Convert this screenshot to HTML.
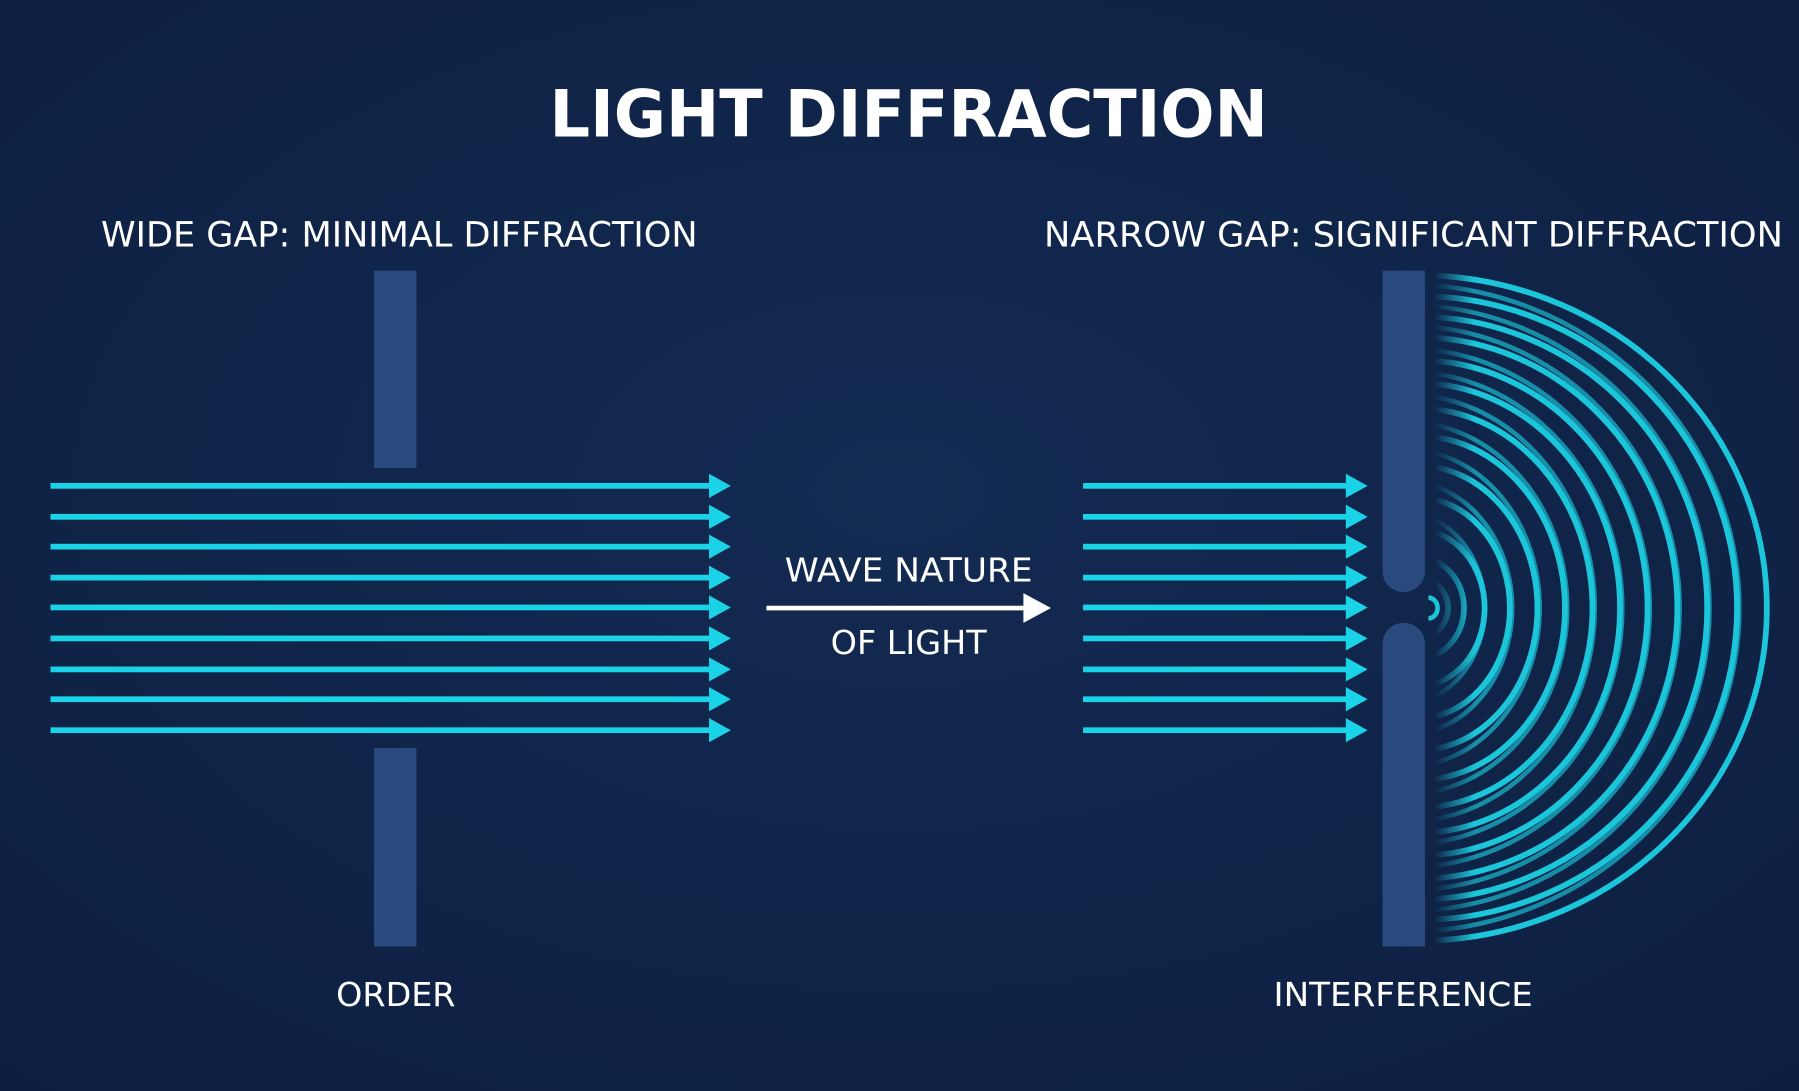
<!DOCTYPE html>
<html><head><meta charset="utf-8"><style>
html,body{margin:0;padding:0;background:#10244a;}
svg{display:block}
text{font-family:"DejaVu Sans","Liberation Sans",sans-serif;fill:#fff;text-anchor:middle}
</style></head><body>
<svg width="1799" height="1091" viewBox="0 0 1568 951" preserveAspectRatio="none" xmlns="http://www.w3.org/2000/svg">
<defs>
<radialGradient id="bg" cx="50%" cy="45%" r="75%"><stop offset="0" stop-color="#132a52"/><stop offset="1" stop-color="#0d1f40"/></radialGradient>
<clipPath id="cl"><rect x="1250" y="230" width="320" height="600"/></clipPath>
<linearGradient id="fade" x1="1250" y1="0" x2="1285" y2="0" gradientUnits="userSpaceOnUse"><stop offset="0" stop-color="#fff" stop-opacity="0"/><stop offset="1" stop-color="#fff" stop-opacity="1"/></linearGradient>
<mask id="mk"><rect x="1240" y="220" width="340" height="620" fill="url(#fade)"/></mask>
</defs>
<rect width="1568" height="951" fill="url(#bg)"/>
<text x="792" y="119" font-size="57" font-weight="bold" textLength="626" lengthAdjust="spacingAndGlyphs">LIGHT DIFFRACTION</text>
<text x="348" y="215" font-size="30" textLength="520" lengthAdjust="spacingAndGlyphs">WIDE GAP: MINIMAL DIFFRACTION</text>
<text x="1232" y="215" font-size="30" textLength="644" lengthAdjust="spacingAndGlyphs">NARROW GAP: SIGNIFICANT DIFFRACTION</text>
<text x="792" y="507" font-size="29" textLength="216" lengthAdjust="spacingAndGlyphs">WAVE NATURE</text>
<text x="792" y="570" font-size="29" textLength="136" lengthAdjust="spacingAndGlyphs">OF LIGHT</text>
<text x="345" y="877" font-size="29" textLength="104" lengthAdjust="spacingAndGlyphs">ORDER</text>
<text x="1223" y="877" font-size="29" textLength="226" lengthAdjust="spacingAndGlyphs">INTERFERENCE</text>
<line x1="668" y1="530" x2="896" y2="530" stroke="#fff" stroke-width="4"/>
<polygon points="892,517 916,530 892,543" fill="#fff"/>
<rect x="326" y="236" width="37" height="172" fill="#2a4a7e"/>
<rect x="326" y="652" width="37" height="173" fill="#2a4a7e"/>
<rect x="1205" y="236" width="37" height="280" rx="18" fill="#2a4a7e"/>
<rect x="1205" y="236" width="37" height="40" fill="#2a4a7e"/>
<rect x="1205" y="543" width="37" height="282" rx="18" fill="#2a4a7e"/>
<rect x="1205" y="785" width="37" height="40" fill="#2a4a7e"/>
<g fill="#1ad3e6">
<rect x="44" y="421" width="580" height="5"/><polygon points="618,413 637,423.5 618,434"/>
<rect x="44" y="448" width="580" height="5"/><polygon points="618,440 637,450.5 618,461"/>
<rect x="44" y="474" width="580" height="5"/><polygon points="618,466 637,476.5 618,487"/>
<rect x="44" y="501" width="580" height="5"/><polygon points="618,493 637,503.5 618,514"/>
<rect x="44" y="527" width="580" height="5"/><polygon points="618,519 637,529.5 618,540"/>
<rect x="44" y="554" width="580" height="5"/><polygon points="618,546 637,556.5 618,567"/>
<rect x="44" y="581" width="580" height="5"/><polygon points="618,573 637,583.5 618,594"/>
<rect x="44" y="607" width="580" height="5"/><polygon points="618,599 637,609.5 618,620"/>
<rect x="44" y="634" width="580" height="5"/><polygon points="618,626 637,636.5 618,647"/>
<rect x="944" y="421" width="236" height="5"/><polygon points="1173,413 1192,423.5 1173,434"/>
<rect x="944" y="448" width="236" height="5"/><polygon points="1173,440 1192,450.5 1173,461"/>
<rect x="944" y="474" width="236" height="5"/><polygon points="1173,466 1192,476.5 1173,487"/>
<rect x="944" y="501" width="236" height="5"/><polygon points="1173,493 1192,503.5 1173,514"/>
<rect x="944" y="527" width="236" height="5"/><polygon points="1173,519 1192,529.5 1173,540"/>
<rect x="944" y="554" width="236" height="5"/><polygon points="1173,546 1192,556.5 1173,567"/>
<rect x="944" y="581" width="236" height="5"/><polygon points="1173,573 1192,583.5 1173,594"/>
<rect x="944" y="607" width="236" height="5"/><polygon points="1173,599 1192,609.5 1173,620"/>
<rect x="944" y="634" width="236" height="5"/><polygon points="1173,626 1192,636.5 1173,647"/>
</g>
<g clip-path="url(#cl)" mask="url(#mk)" fill="none" stroke="#1cc6da" stroke-width="5">
<ellipse cx="1236" cy="530" rx="304" ry="290"/>
<ellipse cx="1236" cy="530" rx="278" ry="272"/>
<ellipse cx="1236" cy="530" rx="252" ry="254"/>
<ellipse cx="1236" cy="530" rx="226" ry="236"/>
<ellipse cx="1236" cy="530" rx="200" ry="216"/>
<ellipse cx="1236" cy="530" rx="176" ry="196"/>
<ellipse cx="1236" cy="530" rx="152" ry="174"/>
<ellipse cx="1236" cy="530" rx="128" ry="150"/>
<ellipse cx="1236" cy="530" rx="104" ry="124"/>
<ellipse cx="1236" cy="530" rx="80" ry="96"/>
<ellipse cx="1236" cy="530" rx="58" ry="68"/>
<ellipse cx="1236" cy="530" rx="40" ry="44"/>
<ellipse cx="1236" cy="530" rx="26" ry="26"/>
<g opacity="0.65" stroke-width="4">
<ellipse cx="1226" cy="530" rx="290" ry="282"/>
<ellipse cx="1226" cy="530" rx="264" ry="264"/>
<ellipse cx="1226" cy="530" rx="238" ry="246"/>
<ellipse cx="1226" cy="530" rx="212" ry="226"/>
<ellipse cx="1226" cy="530" rx="188" ry="206"/>
<ellipse cx="1226" cy="530" rx="164" ry="186"/>
<ellipse cx="1226" cy="530" rx="140" ry="162"/>
<ellipse cx="1226" cy="530" rx="116" ry="138"/>
<ellipse cx="1226" cy="530" rx="92" ry="110"/>
<ellipse cx="1226" cy="530" rx="68" ry="82"/>
</g>
</g>
<path d="M1245,521 a8,9 0 0 1 0,18" fill="none" stroke="#1cc6da" stroke-width="4"/>
</svg>
</body></html>
